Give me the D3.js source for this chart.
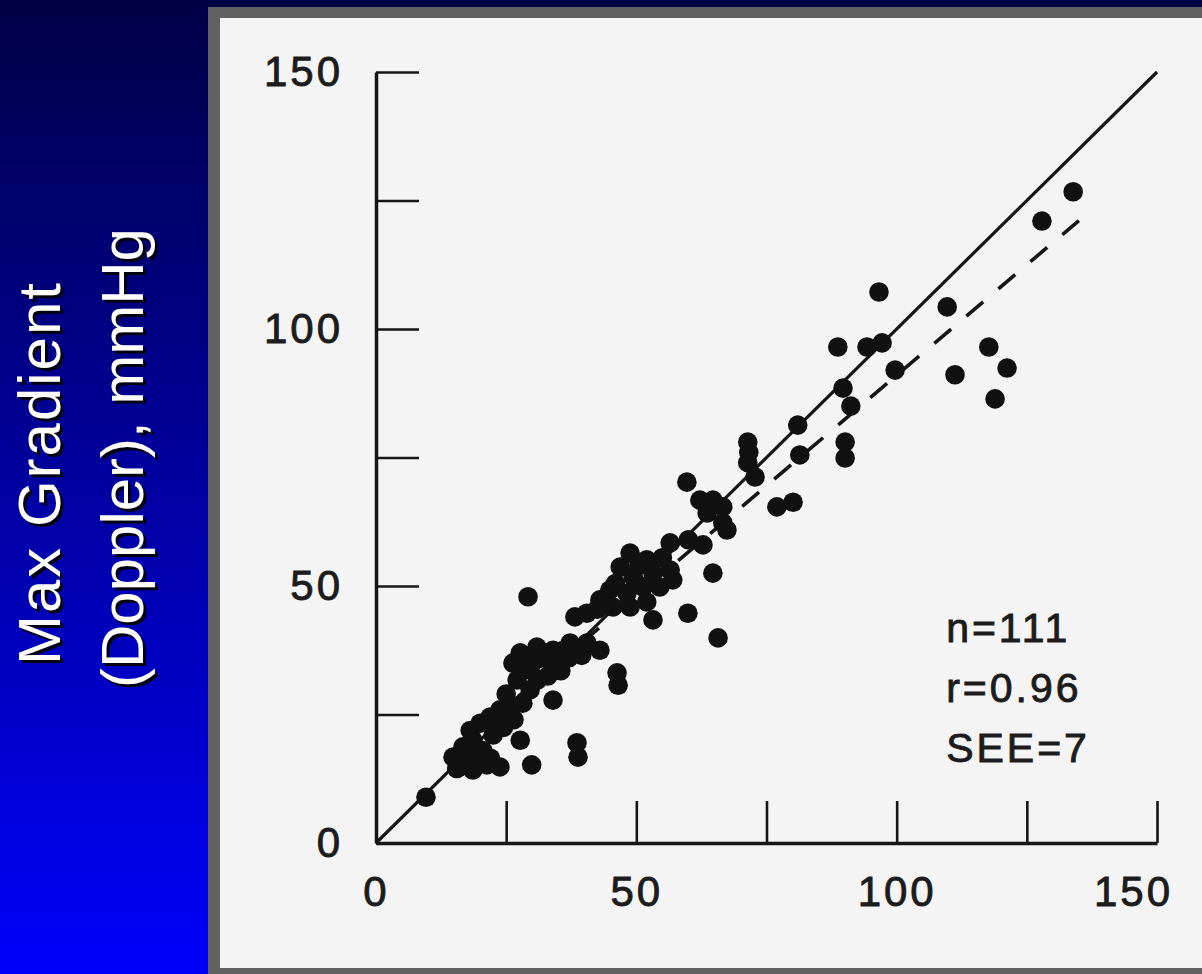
<!DOCTYPE html>
<html>
<head>
<meta charset="utf-8">
<script src="https://cdn.jsdelivr.net/npm/d3@7"></script>
<style>
   html, body { margin: 0; padding: 0; background: #000046; }
   svg { display: block; }
</style>
</head>
<body>
<svg id="chart" width="1202" height="974"></svg>
<script>
// [catheter max gradient, doppler max gradient] in mmHg
const measurements = [
   [133.9, 126.7], [127.9, 121.0], [96.6, 107.2], [109.7, 104.3], [88.7, 96.5],
   [94.3, 96.5], [97.2, 97.3], [117.7, 96.5], [99.7, 92.0], [111.2, 91.1],
   [121.2, 92.4], [118.9, 86.4], [89.7, 88.5], [91.2, 85.0], [90.1, 78.0],
   [90.1, 74.9], [81.0, 81.3], [81.4, 75.5], [71.4, 78.0], [71.6, 76.0],
   [71.4, 74.0], [72.8, 71.2], [77.0, 65.4], [80.1, 66.3], [59.7, 70.2],
   [62.2, 66.7], [64.7, 66.7], [66.6, 65.4], [63.6, 64.2], [66.6, 62.3],
   [67.4, 60.9], [62.8, 58.0], [56.5, 58.4], [64.7, 52.5], [65.7, 39.9],
   [59.9, 44.7], [53.2, 43.4], [48.8, 56.4], [52.0, 55.1], [46.9, 53.7],
   [49.4, 51.8], [53.2, 52.5], [56.5, 53.1], [44.9, 49.2], [48.2, 48.6],
   [51.3, 49.8], [54.5, 49.8], [57.0, 51.2], [43.0, 47.3], [45.5, 45.9],
   [48.8, 45.9], [52.0, 46.9], [50.5, 54.0], [40.5, 44.7], [38.2, 44.0],
   [29.2, 47.9], [27.7, 37.0], [30.9, 38.1], [34.0, 37.5], [37.3, 38.9],
   [40.5, 38.9], [43.0, 37.5], [46.3, 33.1], [46.5, 30.7], [29.6, 33.7],
   [34.8, 34.2], [32.0, 36.0], [37.0, 36.0], [39.5, 36.5], [27.0, 34.8],
   [31.0, 31.7], [33.0, 32.5], [34.0, 27.8], [38.6, 19.5], [38.8, 16.7],
   [29.9, 15.2], [23.8, 14.8], [21.3, 15.2], [18.6, 14.2], [16.1, 14.8],
   [14.8, 16.7], [16.7, 18.7], [18.6, 20.0], [18.1, 21.9], [20.0, 23.3],
   [21.9, 24.5], [23.8, 25.9], [25.7, 26.5], [28.2, 27.2], [29.6, 29.8],
   [27.1, 31.7], [26.3, 35.0], [27.7, 20.0], [9.6, 8.9], [20.5, 18.0],
   [22.5, 21.0], [24.5, 22.5], [26.5, 24.0], [17.5, 17.0], [19.5, 16.0],
   [22.0, 16.5], [25.0, 29.0], [30.5, 35.5], [36.0, 37.5], [42.5, 45.5],
   [55.0, 55.5], [60.0, 59.0], [46.0, 50.5], [15.5, 14.5], [33.5, 36.0],
   [35.5, 33.5]
];

const axisTicks = [0, 25, 50, 75, 100, 125, 150];
const labelledTicks = [0, 50, 100, 150];
const statsLines = [ 'n=111', 'r=0.96', 'SEE=7' ];
const titleLines = [ 'Max Gradient', '(Doppler),  mmHg' ];
const identityLine = [ [ 0, 0 ], [ 150, 150 ] ];
const regressionCoef = [ 0.86, 5 ];     // slope, intercept
const regressionRange = [ 15, 135 ];

const W = 1202, H = 974;
const ink = '#161616';
const font = '"Liberation Sans", Arial, Helvetica, sans-serif';

const svg = d3.select( '#chart' );

// slide background
const grad = svg.append( 'defs' ).append( 'linearGradient' )
   .attr( 'id', 'slideBg' )
   .attr( 'x1', 0 ).attr( 'y1', 0 ).attr( 'x2', 0 ).attr( 'y2', 1 );
grad.append( 'stop' ).attr( 'offset', 0 ).attr( 'stop-color', '#000046' );
grad.append( 'stop' ).attr( 'offset', 1 ).attr( 'stop-color', '#0000fb' );
svg.append( 'rect' ).attr( 'width', W ).attr( 'height', H ).attr( 'fill', 'url(#slideBg)' );

// scanned figure in a grey frame
svg.append( 'rect' )
   .attr( 'x', 208 ).attr( 'y', 7 )
   .attr( 'width', W ).attr( 'height', H )
   .attr( 'fill', '#616161' );
svg.append( 'rect' )
   .attr( 'x', 220 ).attr( 'y', 18 )
   .attr( 'width', W ).attr( 'height', 950 )
   .attr( 'fill', '#f4f4f4' );

// rotated y title on the blue part
titleLines.forEach( ( line, i ) => {
   const bx = 60 + i * 83;
   const cy = i === 0 ? 474 : 458;
   const len = i === 0 ? 382 : 460;
   [ [ 3, 3, '#000010' ], [ 0, 0, '#ffffff' ] ].forEach( ( [ ox, oy, fill ] ) => {
      svg.append( 'text' )
         .attr( 'transform', `translate(${bx + ox},${cy + oy}) rotate(-90)` )
         .attr( 'text-anchor', 'middle' )
         .attr( 'font-family', font )
         .attr( 'font-size', 60 )
         .attr( 'textLength', len )
         .attr( 'fill', fill )
         .text( line );
   } );
} );

const x = d3.scaleLinear().domain( [ 0, 150 ] ).range( [ 376, 1157 ] );
const y = d3.scaleLinear().domain( [ 0, 150 ] ).range( [ 843, 72 ] );

const fmt = d => labelledTicks.includes( d ) ? d : '';

function styleAxis( g ) {
   g.attr( 'font-family', font ).attr( 'font-size', 42 );
   g.select( '.domain' ).attr( 'stroke', ink ).attr( 'stroke-width', 3.5 );
   g.selectAll( '.tick line' ).attr( 'stroke', ink ).attr( 'stroke-width', 2.6 );
   g.selectAll( '.tick text' )
      .attr( 'fill', '#1c1c1c' )
      .attr( 'stroke', '#1c1c1c' )
      .attr( 'stroke-width', 0.9 )
      .attr( 'letter-spacing', '3px' );
}

const gy = svg.append( 'g' )
   .attr( 'transform', `translate(${x( 0 )},0)` )
   .call( d3.axisLeft( y )
      .tickValues( axisTicks )
      .tickFormat( fmt )
      .tickSizeInner( -43 )
      .tickSizeOuter( 0 )
      .tickPadding( 33 ) );
styleAxis( gy );

const gx = svg.append( 'g' )
   .attr( 'transform', `translate(0,${y( 0 )})` )
   .call( d3.axisBottom( x )
      .tickValues( axisTicks )
      .tickFormat( fmt )
      .tickSizeInner( -42 )
      .tickSizeOuter( 0 )
      .tickPadding( 33 ) );
styleAxis( gx );
// the last label sits left of its tick in the original figure
gx.selectAll( '.tick text' ).filter( d => d === 150 ).attr( 'dx', -24 );

// line of identity and regression line
const line = d3.line().x( d => x( d[ 0 ] ) ).y( d => y( d[ 1 ] ) );
svg.append( 'path' )
   .datum( identityLine )
   .attr( 'd', line )
   .attr( 'fill', 'none' )
   .attr( 'stroke', ink )
   .attr( 'stroke-width', 3.2 );

const regressionPoints = regressionRange.map( v => [ v, regressionCoef[ 0 ] * v + regressionCoef[ 1 ] ] );
svg.append( 'path' )
   .datum( regressionPoints )
   .attr( 'd', line )
   .attr( 'fill', 'none' )
   .attr( 'stroke', ink )
   .attr( 'stroke-width', 3.6 )
   .attr( 'stroke-dasharray', '22 20' );

// data points
svg.append( 'g' )
   .selectAll( 'circle' )
   .data( measurements )
   .join( 'circle' )
   .attr( 'cx', d => x( d[ 0 ] ) )
   .attr( 'cy', d => y( d[ 1 ] ) )
   .attr( 'r', 9.8 )
   .attr( 'fill', '#111' );

// statistics block
svg.append( 'g' )
   .selectAll( 'text' )
   .data( statsLines )
   .join( 'text' )
   .attr( 'x', x( 109.5 ) )
   .attr( 'y', ( d, i ) => y( 39.2 ) + i * 60 )
   .attr( 'font-family', font )
   .attr( 'font-size', 41 )
   .attr( 'letter-spacing', '3px' )
   .attr( 'fill', '#1c1c1c' )
   .attr( 'stroke', '#1c1c1c' )
   .attr( 'stroke-width', 0.9 )
   .text( d => d );
</script>
</body>
</html>
